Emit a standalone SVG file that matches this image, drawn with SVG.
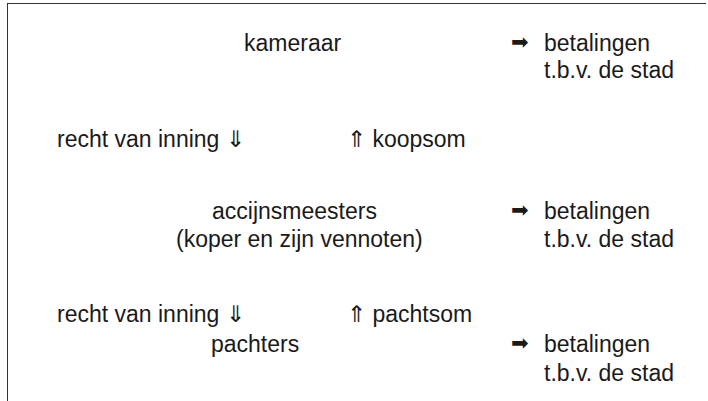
<svg xmlns="http://www.w3.org/2000/svg" width="708" height="401" viewBox="0 0 708 401">
<style>
text{font-family:"Liberation Sans",Arial,sans-serif;font-size:23px;fill:#1a1a1a}
.arr{font-family:"DejaVu Sans",sans-serif;font-size:21px}
.frame{stroke:#333;stroke-width:1;fill:none}
</style>
<rect width="708" height="401" fill="#fff"/>
<g id="frame">
<line class="frame" x1="7" y1="3.5" x2="706" y2="3.5" stroke="#666"/>
<line class="frame" x1="7.5" y1="3" x2="7.5" y2="401"/>
</g>
<g id="kameraar"><text x="244" y="51">kameraar</text></g>
<g id="betalingen1"><text class="arr" x="511" y="49">➡</text><text x="544" y="51">betalingen</text><text x="544" y="78">t.b.v. de stad</text></g>
<g id="connectors">
<text x="57" y="147">recht van inning ⇓</text>
<text x="347" y="147">⇑ koopsom</text>
<text x="57" y="322">recht van inning ⇓</text>
<text x="347" y="322">⇑ pachtsom</text>
</g>
<g id="accijnsmeesters"><text x="212" y="219">accijnsmeesters</text><text x="176" y="247">(koper en zijn vennoten)</text></g>
<g id="betalingen2"><text class="arr" x="511" y="217">➡</text><text x="544" y="219">betalingen</text><text x="544" y="247">t.b.v. de stad</text></g>
<g id="pachters"><text x="211" y="352">pachters</text></g>
<g id="betalingen3"><text class="arr" x="511" y="350">➡</text><text x="544" y="352">betalingen</text><text x="544" y="381">t.b.v. de stad</text></g>
</svg>
